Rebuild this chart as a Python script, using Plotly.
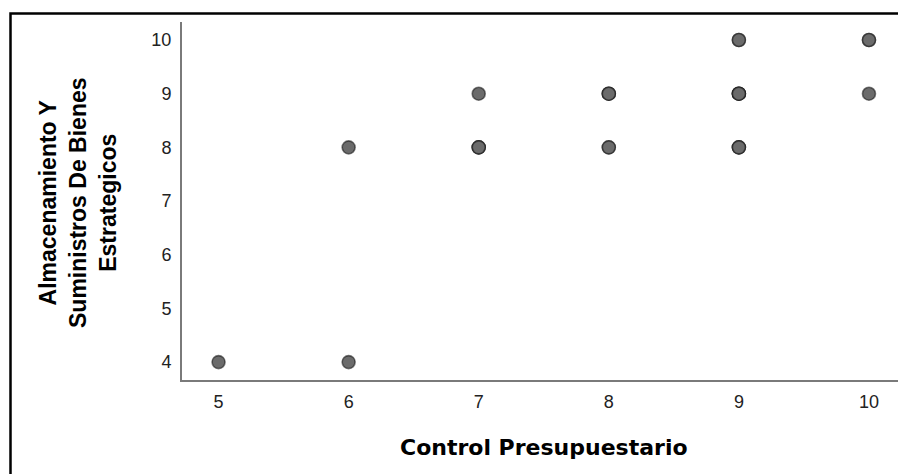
import plotly.graph_objects as go

# Data (each observation; duplicates stack on the same spot)
control_presupuestario = [5, 6, 6, 7, 7, 7, 7, 8, 8, 8, 8, 8,
                          9, 9, 9, 9, 9, 9, 9, 9, 9, 10, 10, 10]
almacenamiento = [4, 4, 8, 9, 8, 8, 8, 9, 9, 9, 8, 8,
                  10, 10, 9, 9, 9, 9, 8, 8, 8, 10, 10, 9]

x_ticks = [5, 6, 7, 8, 9, 10]
y_ticks = [4, 5, 6, 7, 8, 9, 10]

x_title = "Control Presupuestario"
y_title = "Almacenamiento Y<br>Suministros De Bienes<br>Estrategicos"

# page body has an 8px default margin; work in page pixels and convert
OFF = 8
W, H = 906 - OFF, 474 - OFF
L, R, T, B = 182 - OFF, 1, 22 - OFF, 474 - 380
pw, ph = W - L - R, H - T - B

def px_x(px):
    return (px - OFF - L) / pw

def px_y(py):
    return (H - B - (py - OFF)) / ph

fig = go.Figure()
fig.add_trace(go.Scatter(
    x=control_presupuestario, y=almacenamiento, mode="markers",
    marker=dict(size=13, color="#6b6b6b",
                line=dict(color="rgba(20,20,20,0.55)", width=1.6)),
    hoverinfo="x+y", showlegend=False,
))

tick_font = dict(family="Liberation Sans, Arial, sans-serif", size=18, color="#222222")

fig.update_layout(
    width=W, height=H,
    margin=dict(l=L, r=R, t=T, b=B, pad=0),
    paper_bgcolor="white", plot_bgcolor="white",
    xaxis=dict(range=[4.719, 10.277], tickvals=x_ticks, ticktext=[str(v) for v in x_ticks],
               showgrid=False, zeroline=False, showline=True, linecolor="#7a7a7a",
               linewidth=2, ticks="", ticklabelstandoff=4, tickfont=tick_font),
    yaxis=dict(range=[3.667, 10.335], tickvals=y_ticks, ticktext=[str(v) for v in y_ticks],
               showgrid=False, zeroline=False, showline=True, linecolor="#7a7a7a",
               linewidth=2, ticks="", ticklabelstandoff=5, tickfont=tick_font),
    shapes=[dict(type="rect", xref="paper", yref="paper",
                 x0=px_x(10.5), x1=px_x(915), y0=px_y(485), y1=px_y(13.5),
                 line=dict(color="black", width=2.5), layer="above")],
    annotations=[
        dict(text=f"<b>{x_title}</b>", xref="paper", yref="paper",
             x=px_x(544), y=px_y(448), xanchor="center", yanchor="middle",
             showarrow=False,
             font=dict(family="DejaVu Sans, sans-serif", size=22, color="black")),
        dict(text=f"<b>{y_title}</b>", xref="paper", yref="paper",
             x=px_x(78), y=px_y(203), xanchor="center", yanchor="middle",
             textangle=-90, showarrow=False,
             font=dict(family="Liberation Sans, Arial, sans-serif", size=23, color="black")),
    ],
)

fig.write_html("out.html")
